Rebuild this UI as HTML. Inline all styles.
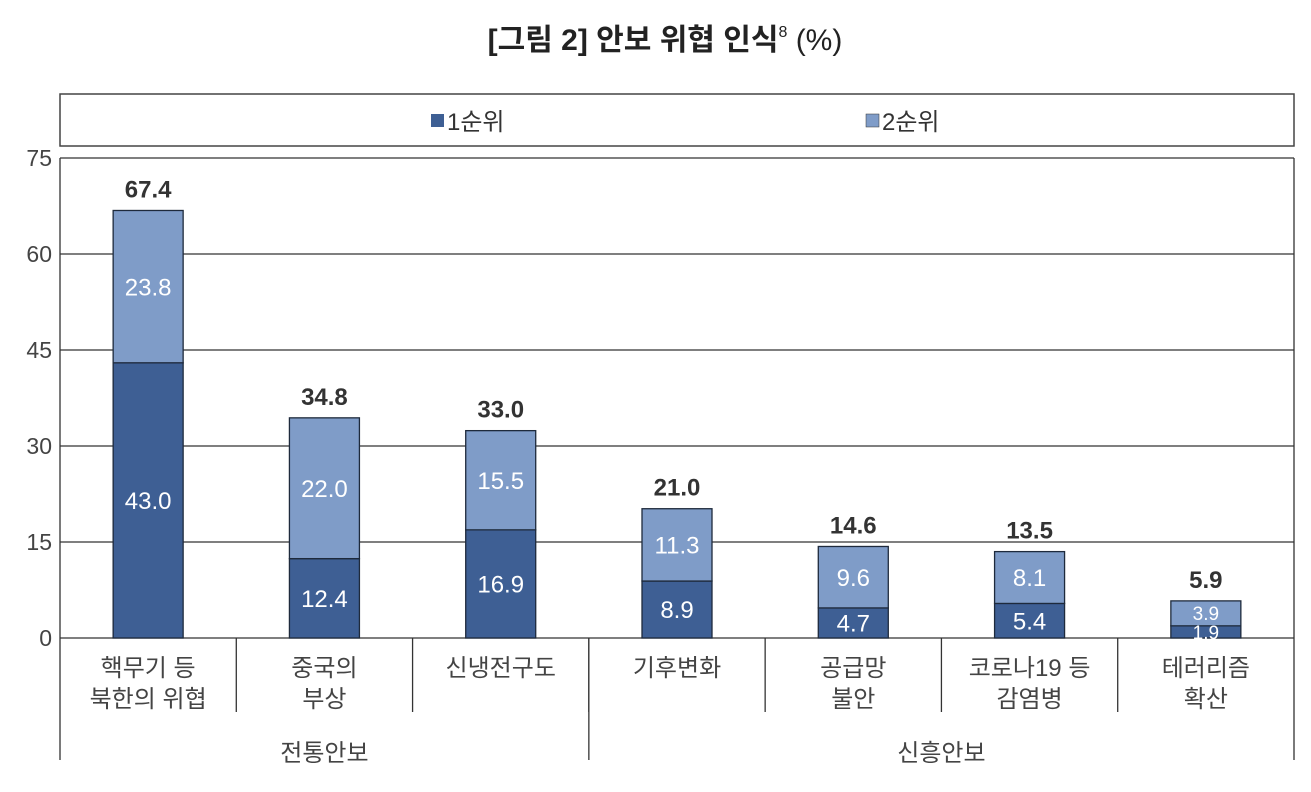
<!DOCTYPE html>
<html><head><meta charset="utf-8"><style>
body{margin:0;background:#fff;}
svg{display:block;font-family:"Liberation Sans","Noto Sans CJK KR",sans-serif;}
</style></head><body>
<svg id="chart" width="1311" height="792">
<text x="665" y="50" text-anchor="middle" font-size="30" font-weight="bold" fill="#222">[그림 2] 안보 위협 인식<tspan font-size="16" dy="-13" font-weight="normal">8</tspan><tspan dy="13" font-weight="normal"> (%)</tspan></text>
<rect x="60" y="94" width="1234" height="52" fill="none" stroke="#444" stroke-width="1.5"/>
<g><rect x="431" y="114" width="13" height="13" fill="#3e5f94"/><text x="447" y="130" font-size="24" fill="#333">1순위</text></g>
<g><rect x="866" y="114" width="13" height="13" fill="#7f9cc8" stroke="#333" stroke-width="0.5"/><text x="882" y="130" font-size="24" fill="#333">2순위</text></g>
<g id="grid"></g><g id="bars"></g><g id="xaxis"></g>
</svg>
<script>
const categories=[["핵무기 등","북한의 위협"],["중국의","부상"],["신냉전구도"],["기후변화"],["공급망","불안"],["코로나19 등","감염병"],["테러리즘","확산"]];
const rank1=[43.0,12.4,16.9,8.9,4.7,5.4,1.9];
const rank2=[23.8,22.0,15.5,11.3,9.6,8.1,3.9];
const totals=[67.4,34.8,33.0,21.0,14.6,13.5,5.9];
const yTicks=[0,15,30,45,60,75];
const groups=[{name:"전통안보",from:0,to:3},{name:"신흥안보",from:3,to:7}];
const NS="http://www.w3.org/2000/svg";
const X0=60,X1=1294,Y0=638,Y1=158,YMAX=75;
const bw=(X1-X0)/categories.length;
const y=v=>Y0-(v/YMAX)*(Y0-Y1);
const cx=i=>X0+bw*(i+0.5);
function mk(tag,attrs,parent,txt){const e=document.createElementNS(NS,tag);for(const k in attrs)e.setAttribute(k,attrs[k]);if(txt!=null)e.textContent=txt;parent.appendChild(e);return e;}
const grid=document.getElementById('grid'),bars=document.getElementById('bars'),xa=document.getElementById('xaxis');
yTicks.forEach(t=>{
 const l=mk('line',{x1:X0,x2:X1,y1:y(t),y2:y(t),stroke:'#333','stroke-width':1.3},grid);
 
 
 const tx=mk('text',{x:52,y:y(t)+8,'text-anchor':'end','font-size':23,fill:'#444'},grid,t);
 
 
});
const fr=mk('line',{x1:X0,x2:X0,y1:Y1,y2:760,stroke:'#333','stroke-width':1.3},grid);


const fr2=mk('line',{x1:X1,x2:X1,y1:Y1,y2:760,stroke:'#333','stroke-width':1.3},grid);


const W=70;
categories.forEach((c,i)=>{
 const x=cx(i)-W/2;
 const r1=mk('rect',{x:x,y:y(rank1[i]),width:W,height:Y0-y(rank1[i]),fill:'#3e5f94',stroke:'#1e2a3c','stroke-width':1.3},bars);
 
 
 const top=rank1[i]+rank2[i];
 const r2=mk('rect',{x:x,y:y(top),width:W,height:y(rank1[i])-y(top),fill:'#7f9cc8',stroke:'#1e2a3c','stroke-width':1.3},bars);
 
 
 const fs=rank1[i]<3?19:24;
 const l1=mk('text',{x:cx(i),y:(y(rank1[i])+Y0)/2+fs*0.36,'text-anchor':'middle','font-size':fs,fill:'#fff'},bars,rank1[i].toFixed(1));
 
 
 const l2=mk('text',{x:cx(i),y:(y(top)+y(rank1[i]))/2+fs*0.36,'text-anchor':'middle','font-size':fs,fill:'#fff'},bars,rank2[i].toFixed(1));
 
 
 mk('rect',{x:cx(i)-42,y:y(top)-40,width:84,height:28,fill:'#fff'},bars);
 const lt=mk('text',{x:cx(i),y:y(top)-13,'text-anchor':'middle','font-size':24,'font-weight':'bold',fill:'#333'},bars,totals[i].toFixed(1));
 
 
 c.forEach((s,j)=>{const t=mk('text',{x:cx(i),y:676+j*31,'text-anchor':'middle','font-size':24,fill:'#444'},xa,s);
  
  });
 if(i>0){const sep=mk('line',{x1:X0+bw*i,x2:X0+bw*i,y1:Y0,y2:712,stroke:'#333','stroke-width':1.3},xa);
  
  }
});
groups.forEach(g=>{
 if(g.from>0){const l=mk('line',{x1:X0+bw*g.from,x2:X0+bw*g.from,y1:Y0,y2:760,stroke:'#333','stroke-width':1.3},xa);
  
  }
 const t=mk('text',{x:X0+bw*(g.from+g.to)/2,y:761,'text-anchor':'middle','font-size':24,fill:'#444'},xa,g.name);
 
 
});
</script>
</body></html>
